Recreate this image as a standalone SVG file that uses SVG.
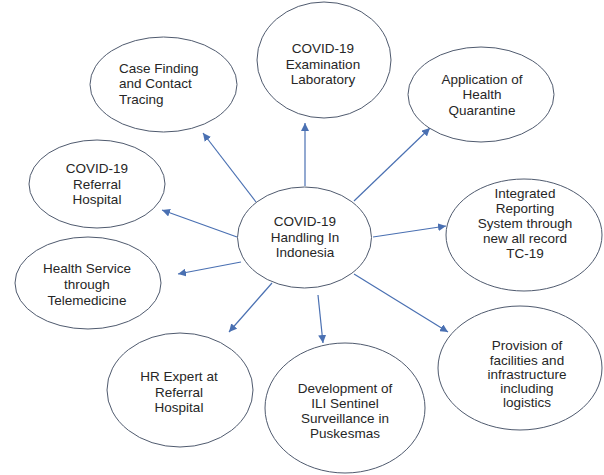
<svg xmlns="http://www.w3.org/2000/svg" width="604" height="475" viewBox="0 0 604 475">
<defs>
<style>
.n{fill:#fff;stroke:#4f5a6e;stroke-width:1}
.t{font-family:"Liberation Sans",Arial,sans-serif;font-size:13.5px;fill:#262626;text-anchor:middle}
.l{text-anchor:start}
.c{stroke:#4a70b2;stroke-width:1.2;fill:none;marker-end:url(#ah)}
</style>
<marker id="ah" viewBox="0 0 10 10" refX="10" refY="5" markerWidth="8" markerHeight="8" markerUnits="userSpaceOnUse" orient="auto">
<path d="M0,0 L10,5 L0,10 z" fill="#4a70b2"/>
</marker>
</defs>
<rect width="604" height="475" fill="#fff"/>
<g id="connectors">
<line class="c" x1="256" y1="202" x2="203" y2="133"/>
<line class="c" x1="305" y1="186" x2="305" y2="123"/>
<line class="c" x1="354" y1="201" x2="430" y2="128"/>
<line class="c" x1="373" y1="237" x2="446" y2="226"/>
<line class="c" x1="354" y1="274" x2="448" y2="332"/>
<line class="c" x1="318" y1="295" x2="323" y2="343"/>
<line class="c" x1="272" y1="283" x2="229" y2="332"/>
<line class="c" x1="241" y1="262" x2="178" y2="274"/>
<line class="c" x1="237" y1="237" x2="162" y2="210"/>
</g>
<g id="center">
<ellipse class="n" cx="304.5" cy="237.5" rx="67" ry="50.5"/>
<text class="t" x="305" y="226">COVID-19</text>
<text class="t" x="305" y="242">Handling In</text>
<text class="t" x="305" y="257">Indonesia</text>
</g>
<g id="case-finding">
<ellipse class="n" cx="163.5" cy="84.5" rx="73.5" ry="47.5"/>
<text class="t l" x="119" y="73">Case Finding</text>
<text class="t l" x="119" y="88">and Contact</text>
<text class="t l" x="119" y="104">Tracing</text>
</g>
<g id="examination-lab">
<ellipse class="n" cx="324" cy="60" rx="67" ry="58"/>
<text class="t" x="323" y="53">COVID-19</text>
<text class="t" x="323" y="69">Examination</text>
<text class="t" x="323" y="84">Laboratory</text>
</g>
<g id="health-quarantine">
<ellipse class="n" cx="481" cy="94.5" rx="73" ry="47.5"/>
<text class="t" x="482" y="84">Application of</text>
<text class="t" x="482" y="99">Health</text>
<text class="t" x="482" y="115">Quarantine</text>
</g>
<g id="integrated-reporting">
<ellipse class="n" cx="524" cy="235" rx="78" ry="56"/>
<text class="t" x="525" y="198">Integrated</text>
<text class="t" x="525" y="213">Reporting</text>
<text class="t" x="525" y="228">System through</text>
<text class="t" x="525" y="243">new all record</text>
<text class="t" x="525" y="258">TC-19</text>
</g>
<g id="provision-facilities">
<ellipse class="n" cx="520" cy="368" rx="82" ry="62"/>
<text class="t" x="527" y="350">Provision of</text>
<text class="t" x="527" y="365">facilities and</text>
<text class="t" x="527" y="379">infrastructure</text>
<text class="t" x="527" y="393">including</text>
<text class="t" x="527" y="407">logistics</text>
</g>
<g id="ili-sentinel">
<ellipse class="n" cx="345" cy="408" rx="80" ry="65"/>
<text class="t" x="345" y="393">Development of</text>
<text class="t" x="345" y="408">ILI Sentinel</text>
<text class="t" x="345" y="423">Surveillance in</text>
<text class="t" x="345" y="438">Puskesmas</text>
</g>
<g id="hr-expert">
<ellipse class="n" cx="180" cy="390" rx="73" ry="57"/>
<text class="t" x="179" y="381">HR Expert at</text>
<text class="t" x="179" y="397">Referral</text>
<text class="t" x="179" y="412">Hospital</text>
</g>
<g id="telemedicine">
<ellipse class="n" cx="88" cy="283" rx="73" ry="46"/>
<text class="t" x="87" y="273">Health Service</text>
<text class="t" x="87" y="289">through</text>
<text class="t" x="87" y="305">Telemedicine</text>
</g>
<g id="referral-hospital">
<ellipse class="n" cx="97" cy="184" rx="68" ry="44"/>
<text class="t" x="97" y="173">COVID-19</text>
<text class="t" x="97" y="189">Referral</text>
<text class="t" x="97" y="204">Hospital</text>
</g>
</svg>
